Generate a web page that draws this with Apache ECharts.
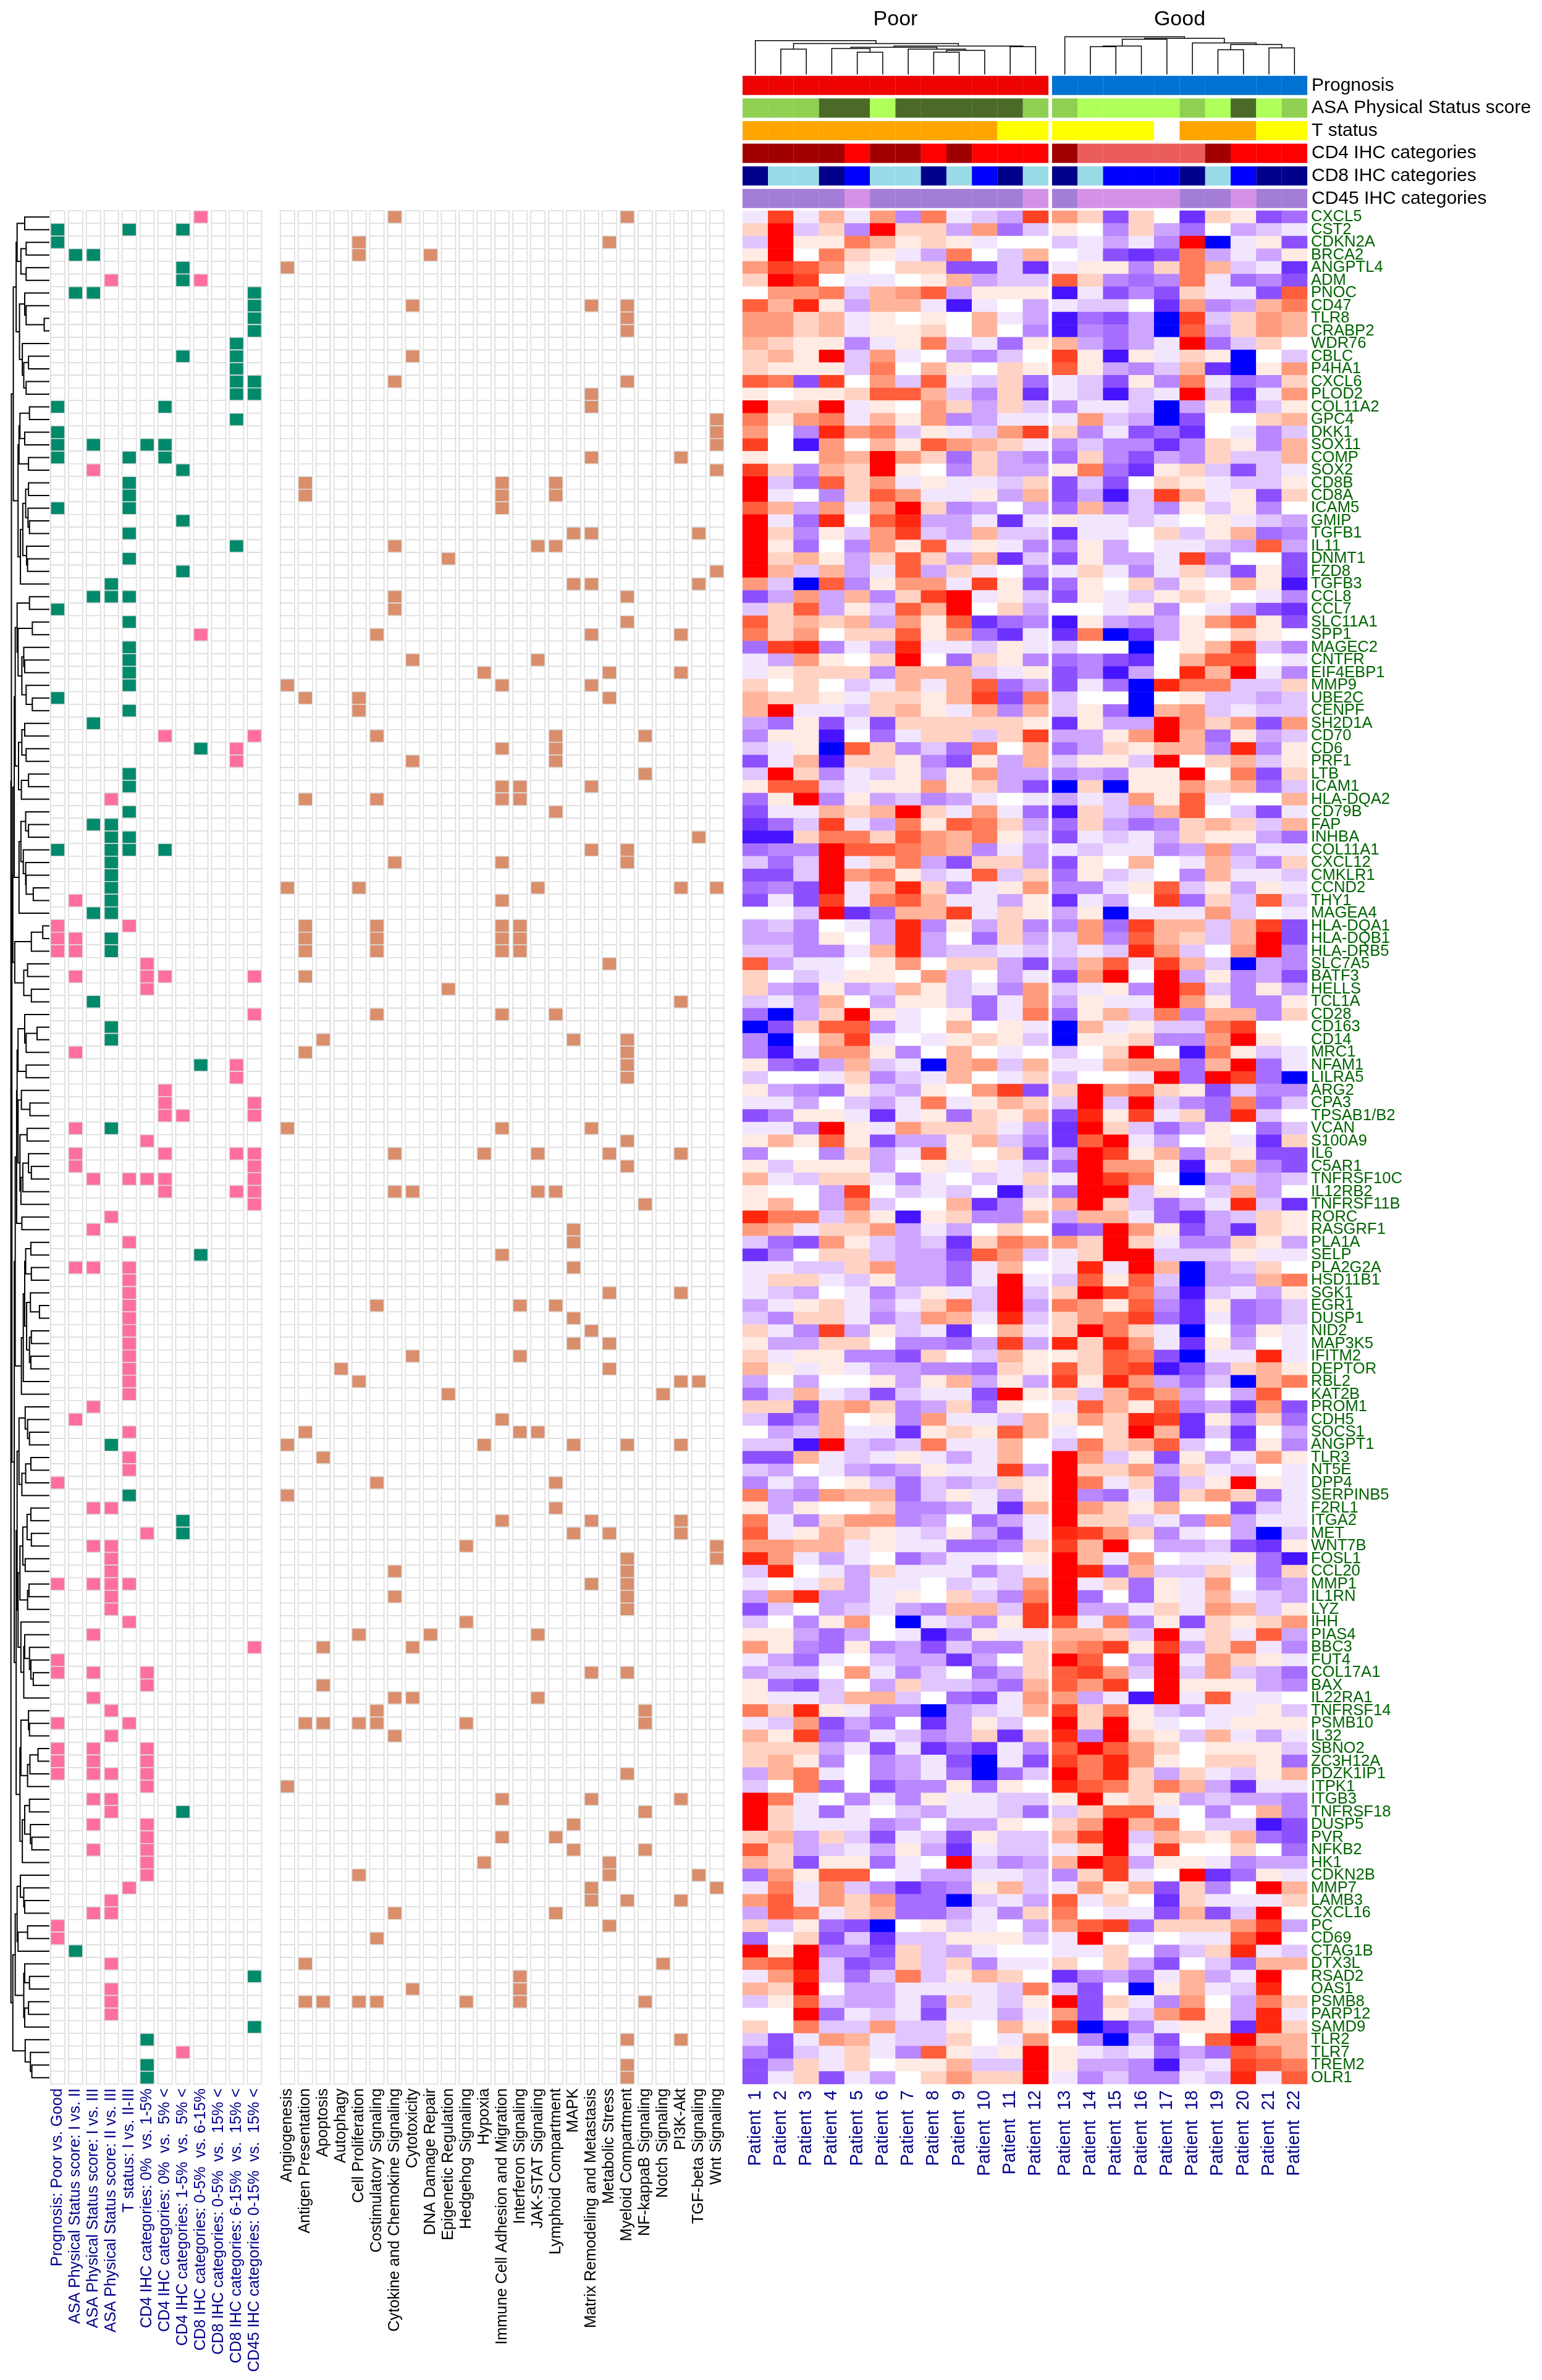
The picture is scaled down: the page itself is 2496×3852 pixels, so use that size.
<!DOCTYPE html>
<html><head><meta charset="utf-8">
<style>html,body{margin:0;padding:0;background:#fff}#c{width:2496px;height:3852px}</style>
<script src="https://cdn.jsdelivr.net/npm/echarts@6/dist/echarts.min.js"></script>
</head><body><div id="c"></div>
<script>
const patients=[];for(let i=1;i<=22;i++)patients.push('Patient  '+i);
const genes=['CXCL5','CST2','CDKN2A','BRCA2','ANGPTL4','ADM','PNOC','CD47','TLR8','CRABP2','WDR76','CBLC','P4HA1','CXCL6','PLOD2','COL11A2','GPC4','DKK1','SOX11','COMP','SOX2','CD8B','CD8A','ICAM5','GMIP','TGFB1','IL11','DNMT1','FZD8','TGFB3','CCL8','CCL7','SLC11A1','SPP1','MAGEC2','CNTFR','EIF4EBP1','MMP9','UBE2C','CENPF','SH2D1A','CD70','CD6','PRF1','LTB','ICAM1','HLA-DQA2','CD79B','FAP','INHBA','COL11A1','CXCL12','CMKLR1','CCND2','THY1','MAGEA4','HLA-DQA1','HLA-DQB1','HLA-DRB5','SLC7A5','BATF3','HELLS','TCL1A','CD28','CD163','CD14','MRC1','NFAM1','LILRA5','ARG2','CPA3','TPSAB1/B2','VCAN','S100A9','IL6','C5AR1','TNFRSF10C','IL12RB2','TNFRSF11B','RORC','RASGRF1','PLA1A','SELP','PLA2G2A','HSD11B1','SGK1','EGR1','DUSP1','NID2','MAP3K5','IFITM2','DEPTOR','RBL2','KAT2B','PROM1','CDH5','SOCS1','ANGPT1','TLR3','NT5E','DPP4','SERPINB5','F2RL1','ITGA2','MET','WNT7B','FOSL1','CCL20','MMP1','IL1RN','LYZ','IHH','PIAS4','BBC3','FUT4','COL17A1','BAX','IL22RA1','TNFRSF14','PSMB10','IL32','SBNO2','ZC3H12A','PDZK1IP1','ITPK1','ITGB3','TNFRSF18','DUSP5','PVR','NFKB2','HK1','CDKN2B','MMP7','LAMB3','CXCL16','PC','CD69','CTAG1B','DTX3L','RSAD2','OAS1','PSMB8','PARP12','SAMD9','TLR2','TLR7','TREM2','OLR1'];
// Expression level per gene, -9 (blue) .. 9 (red); columns Patient 1..22
const expression=[
[-1,7,-1,3,-1,4,-4,5,-1,-2,-3,7,4,2,-6,2,0,-7,2,1,-6,-5],
[2,9,-2,2,-4,9,2,2,-3,4,-5,-2,1,0,-4,2,-3,-5,0,-3,-2,-1],
[-2,9,1,1,5,3,1,2,1,-1,0,0,-2,-1,-3,-1,-4,9,-9,-1,1,-6],
[1,9,0,5,2,1,-1,-3,5,0,-2,3,0,-1,-6,-7,-6,5,-3,-1,-3,1],
[4,7,6,4,1,0,2,2,-6,-6,-2,-7,-1,1,1,-4,2,5,3,-2,-1,-7],
[2,9,7,0,-1,-1,0,1,3,-3,-2,-2,6,2,-4,-5,-4,5,-1,-5,-4,-6],
[0,4,4,5,-2,3,4,6,-3,1,1,1,-8,-1,-6,-4,-6,2,-1,-1,-6,6],
[6,3,8,1,-3,3,3,-1,-8,-1,0,-3,-1,-2,-2,0,-7,4,-4,-3,3,5],
[4,4,2,3,-1,1,0,1,0,3,-1,-3,-8,-5,-6,-3,-9,7,-2,2,4,3],
[4,4,2,3,-1,1,1,2,0,3,0,-4,-8,-4,-5,-3,-9,6,-3,2,4,3],
[3,2,1,1,-4,-1,1,5,-2,-1,-5,1,3,-3,-5,-3,-1,9,-5,-2,2,0],
[2,3,1,9,-2,4,-1,0,-3,-4,-2,0,7,1,-8,1,-1,2,1,-9,0,-2],
[2,1,1,1,-2,5,0,3,1,0,2,1,6,1,-3,-4,-2,3,-7,-9,1,4],
[6,5,-6,7,0,4,-2,6,-1,-2,2,-5,-1,-2,-6,1,-4,5,-1,-5,-4,2],
[1,0,1,1,2,6,6,3,-2,-4,2,-7,-1,-2,-8,-2,-1,9,-2,-7,-1,4],
[9,2,2,9,-1,1,0,4,2,-3,2,-2,-4,-1,-1,-2,-9,-3,1,-6,-2,1],
[5,1,4,5,-1,3,1,4,-4,-3,-1,-1,-1,4,-2,-3,-9,-6,0,0,2,3],
[4,0,-4,8,4,5,-2,1,-1,-2,4,7,2,-4,-1,-6,-5,-7,0,-1,-4,-2],
[7,0,-8,4,0,3,1,6,4,3,2,-1,-4,-2,-4,-4,-7,-4,2,1,-4,3],
[1,0,0,4,3,9,4,2,-5,2,-3,-4,-5,2,-4,-6,-3,-4,2,-2,-2,3],
[7,2,-4,3,2,9,1,0,-4,2,-3,-3,1,5,-5,-7,1,2,-2,-6,-2,-1],
[9,-2,-5,6,2,4,-1,1,-1,-1,-2,2,-6,-2,-6,0,2,1,-1,-2,-2,1],
[9,-1,0,-4,2,6,4,-1,-1,1,-3,3,-6,-3,-8,-2,7,3,-1,1,-6,2],
[6,3,-3,4,-1,4,9,2,-4,-3,0,-3,-5,3,-4,-2,-4,1,-2,1,-4,0],
[9,-1,-5,8,0,6,8,-3,-3,-1,-7,-1,1,-1,-1,-2,-1,0,1,-1,-2,-3],
[9,2,-4,1,-2,4,7,-2,-3,3,-2,-2,-7,-1,-1,0,2,-2,1,3,-5,-4],
[9,1,-5,0,-4,4,1,6,-1,1,-1,-4,-4,1,-3,0,-1,-1,-2,-3,6,-3],
[9,2,3,1,-3,2,6,2,-3,3,-7,-2,-6,1,-3,-3,-1,7,-4,0,0,-6],
[9,3,-2,3,-3,-1,6,-3,2,-1,0,-4,-1,2,-1,-4,-1,2,-2,-6,1,-6],
[4,-2,-9,6,-4,1,4,4,-1,7,1,-6,-5,1,0,2,-3,1,0,3,1,-8],
[-6,-3,4,-3,3,-4,2,7,9,-1,1,-2,-6,1,-1,-2,1,2,1,0,-1,-4],
[-2,2,6,-3,1,-2,6,3,9,0,2,-3,0,0,-1,1,-4,0,-1,-3,-6,-7],
[6,2,3,2,3,-3,4,1,6,-7,-5,-4,-8,1,-3,-4,-3,1,4,6,1,-6],
[5,2,4,0,2,2,6,1,4,-5,-7,-1,-7,5,-9,-7,-3,1,0,2,1,0],
[-5,7,8,-4,-1,-3,8,-1,-1,-2,1,-1,-2,0,0,-9,0,1,3,7,-2,-4],
[-1,-3,4,1,0,2,9,0,-5,2,1,-4,-5,-4,-6,-7,0,3,6,6,0,-1],
[-1,1,2,2,2,-4,3,3,3,-2,-1,1,-6,-4,-8,-3,0,8,3,9,-1,-4],
[2,0,2,0,-2,-1,3,-1,3,6,-5,-3,-6,-1,-5,-9,8,5,5,-2,-2,2],
[3,2,2,1,-1,2,2,1,3,7,-6,5,-2,0,0,-9,0,1,-2,-2,-3,-2],
[3,9,-1,-1,-2,2,3,1,-1,3,-4,3,-2,1,-5,-9,3,4,-2,-1,-2,-2],
[-3,-5,1,-6,-1,-6,2,2,2,2,2,1,-7,1,-3,-3,9,4,2,4,-6,4],
[-4,1,1,-8,0,-5,-1,2,2,-2,2,7,-3,-3,1,4,9,3,-5,1,-3,-2],
[-2,-1,1,-9,6,2,-4,-2,-5,5,0,3,-5,-3,2,1,3,3,-4,8,-4,1],
[-6,-1,3,-8,2,2,1,-4,-6,1,-3,3,-2,1,1,-2,9,0,2,3,-2,1],
[-2,9,2,-4,-1,-2,1,-3,1,4,-3,-3,-4,-3,-4,1,1,9,0,5,-6,2],
[1,6,6,-2,-1,1,1,4,1,2,-3,-6,-9,2,-9,1,1,4,2,3,-5,-2],
[-5,1,9,-4,1,-3,-2,-4,-3,-1,0,-1,-3,-1,-2,4,1,6,-1,0,0,3],
[-6,-1,-1,3,2,3,9,2,-1,4,-1,-5,-8,2,-2,-3,3,6,0,-2,-6,-1],
[-7,-5,-2,7,-1,-3,5,1,6,5,2,-3,-5,2,-3,-5,-4,2,3,2,-2,3],
[-8,-8,2,5,5,2,6,4,3,5,1,-2,-6,-1,-2,-1,-3,2,1,1,-3,-5],
[-5,-4,-4,9,6,6,5,4,3,-4,-1,-3,-1,-2,-1,-1,-4,-3,4,-3,-1,-1],
[-2,-5,-2,9,-1,2,5,-3,-6,2,2,-3,-6,1,0,3,0,-1,3,-2,-4,2],
[-6,-6,-2,9,4,5,1,-2,-1,6,-2,2,-5,1,-2,-1,0,-4,3,-1,-1,-2],
[-5,-4,-6,9,-1,3,8,2,-4,-1,1,4,-4,-4,-1,1,6,-2,1,-3,1,-1],
[-6,-1,-6,7,-1,5,6,3,-1,-1,-3,1,-7,-1,-3,0,7,-5,2,-2,6,-2],
[0,0,-2,9,-7,-5,3,3,7,-1,2,1,-3,1,-9,-1,-1,-1,4,-2,0,-1],
[-3,-2,-4,0,-1,-3,8,-4,1,-3,2,-4,-4,4,-5,7,3,3,-2,3,7,-6],
[-3,-3,-4,1,0,-3,8,-3,0,-5,2,-3,-2,4,-4,6,3,2,-2,3,9,-6],
[-2,-2,-4,-4,-1,3,8,-3,-2,-2,-1,-2,-2,-1,-2,8,4,-2,0,4,9,-4],
[6,-3,-1,-1,0,1,4,0,2,2,-3,-6,-3,3,6,-1,7,3,-2,-9,-3,-4],
[2,0,-2,-1,1,1,0,4,-2,0,-3,-1,-6,4,9,0,9,-3,1,-4,-3,-6],
[2,-3,-4,1,-3,-2,3,1,-2,-1,-4,4,-2,-1,1,-4,9,6,-2,-4,1,-3],
[-2,-1,-3,3,0,-3,1,1,-2,-5,-1,4,-3,1,-1,-1,9,4,1,-4,-4,1],
[-5,-9,-3,2,9,1,-1,0,1,-5,-1,5,-5,1,3,-2,5,-4,3,3,-4,2],
[-9,-6,2,6,6,-4,-1,0,3,0,1,-1,-9,3,-1,1,-2,-2,5,7,0,0],
[-4,-9,0,3,7,-1,0,-1,1,2,1,-2,-9,1,1,2,-4,-4,4,9,1,0],
[-4,-8,-1,4,4,1,-4,0,3,0,-1,0,-2,0,2,9,0,-8,5,1,-2,-1],
[1,-5,-6,-3,3,-2,-1,-9,3,4,-2,3,-1,-1,3,4,4,-5,3,9,-5,-1],
[-2,0,0,-1,2,-4,-2,-1,3,0,-1,2,-2,0,0,-1,9,-5,9,7,-5,-9],
[1,-3,-4,-5,1,-2,-3,1,0,4,7,-6,2,9,4,5,2,1,-6,-2,-4,-4],
[-1,-1,-3,0,-2,-3,-1,5,-1,1,3,2,-2,9,-2,9,-2,-4,-5,5,-5,-2],
[-6,-4,1,1,-1,-7,-1,1,-5,2,1,3,-6,8,1,7,-1,2,-5,8,-2,0],
[-1,-1,-4,9,1,-1,4,2,2,2,-1,-3,-7,9,2,-2,-5,-3,1,0,-5,-2],
[1,3,1,6,1,-6,-3,-3,1,3,-2,-4,-7,6,9,-1,-3,0,1,-1,-7,2],
[-4,0,0,-4,2,-3,-1,6,1,0,2,-6,-3,9,7,1,3,-4,2,1,-6,-6],
[1,-2,1,1,1,-3,0,1,-1,1,-1,-2,-5,9,4,4,1,-8,1,3,-4,-6],
[3,-1,-2,2,2,-1,-4,-1,0,-2,-1,2,-1,9,7,5,0,-9,-3,-2,-3,-2],
[1,0,0,-3,7,0,-2,-1,-2,0,-8,-2,-5,9,9,-2,1,0,-2,3,-3,0],
[1,3,0,-3,5,-2,0,0,3,-7,-4,1,3,9,2,-2,-5,-3,-1,8,-2,-7],
[8,5,5,-2,3,1,-8,1,2,-4,-4,3,-3,3,3,-1,-5,-7,-3,-2,2,1],
[4,3,-1,2,2,4,-3,-1,-3,0,2,0,-6,-5,9,4,1,-6,-3,-7,2,1],
[-2,-5,-6,4,1,-2,-3,-2,-7,2,5,4,4,2,9,2,-1,-4,-4,2,1,-3],
[-7,-4,0,2,2,-2,-3,-3,-6,6,4,-2,-1,2,9,9,-2,-2,-2,1,-1,-1],
[-1,-1,-2,-2,2,4,-3,-3,-5,-1,3,0,-1,8,-1,9,3,-9,-3,-2,2,0],
[-1,2,2,-1,-2,1,-3,-3,-5,-1,9,-1,-2,6,1,6,-2,-9,-3,-3,3,5],
[-1,-2,-3,0,-1,-4,-2,1,-1,-2,9,-2,2,9,7,5,-3,-8,-2,-1,-3,1],
[-3,-1,1,2,-1,-3,-1,2,5,-2,9,-3,5,4,1,6,-4,-7,1,-5,-4,-2],
[-2,-4,2,2,-1,-4,-2,4,3,-1,8,-2,2,4,5,7,-5,-7,-1,-5,-4,-2],
[2,-1,-4,7,-3,1,-2,-1,-7,0,3,-1,2,9,5,2,-1,-9,0,-4,1,-1],
[1,-3,-3,2,2,0,-4,-4,-5,-3,7,-3,8,2,8,4,-1,-7,1,-3,0,-1],
[2,-1,1,1,-4,-4,-6,2,0,-2,3,1,1,2,6,5,-6,-9,-1,-1,8,-1],
[3,1,-1,1,-1,-3,-3,-4,-4,-5,2,1,6,2,6,7,-8,-6,-3,2,3,1],
[-3,0,-3,0,0,1,-3,1,3,-3,1,-3,7,1,8,4,-3,-5,-2,-9,3,5],
[-5,-2,3,-1,-2,-6,-2,-1,-1,-6,9,1,2,-2,3,6,4,-3,0,-3,6,0],
[2,2,-6,3,4,2,-4,-3,2,-5,1,0,-1,6,3,1,6,-4,-3,-7,4,-6],
[-2,-6,-4,3,0,1,-4,4,-1,-1,-2,3,1,4,2,8,7,-7,1,-4,2,-5],
[0,-3,-2,3,-1,-1,-7,1,2,1,6,3,-1,0,2,9,3,-7,-2,-7,0,-3],
[-2,-2,-8,9,-2,-3,-2,5,-1,-1,3,0,-2,5,2,3,6,-2,0,-6,1,-4],
[-6,-6,3,-1,-2,-1,1,-1,-3,-1,3,0,9,4,-2,1,-6,1,-3,-1,4,1],
[-2,-3,0,-1,-3,-4,-3,1,-1,-1,7,-3,9,2,2,4,-3,2,-1,-2,0,-1],
[-4,-1,-3,0,1,-2,-5,-2,-3,-2,2,1,9,5,-1,2,-5,-2,1,9,1,-1],
[5,-3,-4,4,3,3,-5,-2,1,-1,-3,1,9,-4,-5,-1,-5,2,4,2,-5,-1],
[1,-3,1,0,0,2,-4,-4,-3,-1,-7,3,9,4,2,1,3,0,0,-6,-2,-1],
[5,-1,-4,2,4,4,-4,-3,0,-5,-3,-1,9,2,2,-2,-1,-4,4,-3,-1,-1],
[6,-1,1,3,2,1,-1,-2,1,-3,-6,-1,8,7,4,2,-4,-1,0,-3,-9,-2],
[4,4,3,3,-1,1,-1,-1,-5,-5,-4,2,7,3,9,0,-3,-3,-2,-6,-7,1],
[8,4,-1,-3,-1,0,-5,-3,-1,-1,0,1,9,3,-1,4,0,-1,-1,1,-5,-8],
[-2,8,0,-1,-3,2,-1,-1,-1,-4,-2,-1,9,8,-5,3,-2,-2,2,-1,-5,2],
[-1,0,-1,2,-3,-1,-1,0,-2,-1,-2,4,9,-1,2,-5,1,-1,4,0,-4,-3],
[-3,4,8,-3,-3,-1,1,0,2,-2,-4,5,9,-5,0,-5,1,-1,3,-1,-2,-3],
[-6,-2,0,-3,-2,-1,-3,-4,3,3,-2,7,9,-3,-3,-1,2,-1,4,3,-2,1],
[-2,0,-4,1,4,0,-9,-1,-2,-4,1,7,6,-1,5,-4,1,-6,2,1,2,4],
[1,1,-3,-5,-3,0,-1,-8,-5,1,-1,-1,3,3,2,-2,9,-1,2,-1,6,-3],
[4,1,-4,-5,1,-4,-3,-6,-2,-4,-4,2,4,5,7,1,7,-3,2,5,-1,-4],
[-1,-3,-5,-1,0,-2,-3,-3,-7,-3,0,2,9,6,0,-3,9,-1,4,2,1,-1],
[-3,-2,-2,0,4,-1,-4,-2,0,-5,-3,2,6,7,4,-2,9,-2,4,-2,-3,-5],
[1,-5,-6,-2,0,-3,2,-2,-2,-3,-5,3,6,4,7,0,9,1,1,1,-3,-4],
[1,-1,-1,-2,3,3,-2,0,-5,-6,-1,4,4,-3,-1,-8,9,-1,6,-1,-1,0],
[5,2,8,1,-1,-4,-4,-9,-3,-2,-1,3,7,2,5,1,-2,-3,-1,-1,1,-2],
[-1,-2,4,-6,-3,-5,0,-7,-3,1,-2,0,9,2,9,1,-1,0,-1,1,1,1],
[3,1,7,-5,-4,-1,-2,-4,-3,2,-7,2,8,-4,9,2,1,-2,3,-1,-3,-1],
[2,2,2,-3,-1,-6,-1,-7,-5,-7,-1,-4,6,9,6,4,2,0,1,1,1,-2],
[2,3,1,-4,0,-4,-3,-1,-6,-9,-1,-6,7,5,8,4,1,0,2,2,1,-5],
[-3,3,5,-1,0,-4,-3,-1,-5,-9,-5,-2,9,5,8,2,-3,2,-1,-2,1,3],
[-2,0,5,-5,0,-6,-4,-4,1,-5,1,0,8,6,5,2,5,3,-3,-7,-1,-1],
[9,5,-1,0,-4,-1,-4,1,-1,-1,-2,-2,1,9,1,2,1,-3,-2,-3,-3,-4],
[9,2,-1,-5,-1,0,-2,-3,-1,-1,-2,-5,-2,2,6,6,-1,0,-4,0,3,-4],
[9,2,-1,-1,-1,-4,-3,0,-3,-3,1,0,2,4,9,3,5,0,-2,-2,-8,-6],
[2,3,-3,2,-2,-6,-1,-2,-6,1,-2,-2,3,7,9,-2,3,2,1,3,-5,-6],
[6,2,-3,-2,-1,-3,1,-3,-7,-1,-2,-2,-1,2,9,-1,7,0,0,2,0,-5],
[3,2,-6,1,1,-5,-1,0,9,-2,-4,-3,3,9,7,-3,1,1,-1,-4,-3,-3],
[-5,4,1,6,6,0,-1,-3,-3,-1,-1,-2,-4,2,7,-1,0,9,-7,-5,1,-1],
[-1,5,-1,4,-2,-4,-7,-5,-4,1,3,-2,-1,4,1,3,-6,2,-4,0,9,3],
[4,6,-1,4,2,4,-5,-5,-9,-2,-1,-3,6,-1,2,0,-7,2,-1,-1,-1,2],
[-3,6,5,-1,2,3,-5,-5,-3,-1,-4,2,5,0,-1,-1,-6,3,-6,-2,9,0],
[2,-2,1,-5,-6,-9,0,1,-2,-1,0,-3,4,6,7,-5,2,2,2,4,7,-3],
[-5,0,2,-6,-2,-7,-2,-2,1,1,1,-2,-1,9,0,-1,0,-1,-1,6,9,0],
[9,1,9,-4,-4,-6,2,-2,-3,-1,0,0,-1,-1,2,0,-4,-2,2,8,-1,-2],
[5,6,9,-2,-6,-5,2,-2,2,-4,-1,-1,2,0,2,-3,-6,0,-2,-5,3,3],
[-1,4,8,-2,-5,-2,5,-2,1,3,2,0,-7,-4,-3,-5,-1,3,-3,-1,9,0],
[3,2,9,0,-3,-3,-1,-1,-1,-1,-2,5,-2,-6,0,-9,1,3,-1,-2,8,0],
[-2,1,6,-2,-3,-3,-1,-5,2,-1,-2,1,9,-6,2,-1,-4,4,0,-3,5,2],
[0,0,9,-5,-1,-2,-1,-6,-1,-1,-3,-1,4,-6,1,-2,4,6,1,-3,8,-1],
[2,0,5,-2,-2,4,-2,-2,1,0,3,1,7,-9,-7,-4,-1,1,1,-7,8,2],
[-2,-6,-1,4,3,-1,-2,-2,2,0,-1,4,0,-4,-9,-2,-6,0,6,9,3,3],
[-4,-6,-2,-1,2,-1,-4,6,1,-1,1,9,1,-1,-2,-1,-5,-3,-5,6,5,3],
[-6,-3,2,-1,2,0,1,1,3,-2,-2,9,1,-3,-3,-4,-8,-2,-1,7,6,5],
[-6,-1,2,-6,-1,-3,0,2,4,2,2,9,-1,-4,-2,-4,-4,-1,-2,8,-1,6]
];
const rampColors=['#0000FF','#4614FF','#6E32FF','#8C50FF','#A56EFF','#B987FF','#CDA5FF','#E1C5FF','#F2E6FF','#FFFFFF','#FFEBE3','#FFD2C3','#FFB49B','#FF9B7D','#FF7D5A','#FF5F3C','#FF4123','#FF280F','#FF0000'];

// Sample annotation tracks, one category index per patient
const annotNames=['Prognosis','ASA Physical Status score','T status','CD4 IHC categories','CD8 IHC categories','CD45 IHC categories'];
const prognosis=[0,0,0,0,0,0,0,0,0,0,0,0,1,1,1,1,1,1,1,1,1,1];
const asaScore=[0,0,0,1,1,2,1,1,1,1,1,0,0,2,2,2,2,0,2,1,2,0];
const tStatus=[0,0,0,0,0,0,0,0,0,0,1,1,1,1,1,1,2,0,0,0,1,1];
const cd4Cat=[0,0,0,0,1,0,0,1,0,1,1,1,0,2,2,2,2,2,0,1,1,1];
const cd8Cat=[0,1,1,0,2,1,1,0,1,2,0,1,0,1,2,2,2,0,1,2,0,0];
const cd45Cat=[0,0,0,0,1,0,0,0,0,0,0,1,0,1,1,1,1,0,0,1,0,0];
const annotTracks=[prognosis,asaScore,tStatus,cd4Cat,cd8Cat,cd45Cat];
const annotColors=[['#EE0202','#0072D2'],['#8FD052','#4B6A28','#AFFF5A'],['#FFA500','#FFFF00','#FFFFFF'],['#A00000','#FF0000','#EB5C5C'],['#00008B','#9ADBE8','#0000FF'],['#A47DD8','#D591E5']];

const clinicalLabels=['Prognosis: Poor vs. Good','ASA Physical Status score: I vs. II','ASA Physical Status score: I vs. III','ASA Physical Status score: II vs. III','T status: I vs. II-III','CD4 IHC categories: 0%  vs. 1-5%','CD4 IHC categories: 0%  vs.  5% <','CD4 IHC categories: 1-5%  vs.  5% <','CD8 IHC categories: 0-5%  vs. 6-15%','CD8 IHC categories: 0-5%  vs.  15% <','CD8 IHC categories: 6-15%  vs.  15% <','CD45 IHC categories: 0-15%  vs.  15% <'];
const pathwayLabels=['Angiogenesis','Antigen Presentation','Apoptosis','Autophagy','Cell Proliferation','Costimulatory Signaling','Cytokine and Chemokine Signaling','Cytotoxicity','DNA Damage Repair','Epigenetic Regulation','Hedgehog Signaling','Hypoxia','Immune Cell Adhesion and Migration','Interferon Signaling','JAK-STAT Signaling','Lymphoid Compartment','MAPK','Matrix Remodeling and Metastasis','Metabolic Stress','Myeloid Compartment','NF-kappaB Signaling','Notch Signaling','PI3K-Akt','TGF-beta Signaling','Wnt Signaling'];
// [gene row (1-based), clinical columns (1-based)]: positive = green, negative = pink
const clinicalHits=[[1,[-9]],[2,[1,5,8]],[3,[1]],[4,[2,3]],[5,[8]],[6,[-4,8,-9]],[7,[2,3,12]],[8,[12]],[9,[12]],[10,[12]],[11,[11]],[12,[8,11]],[13,[11]],[14,[11,12]],[15,[11,12]],[16,[1,7]],[17,[11]],[18,[1]],[19,[1,3,6,7]],[20,[1,5,7]],[21,[-3,8]],[22,[5]],[23,[5]],[24,[1,5]],[25,[8]],[26,[5]],[27,[11]],[28,[5]],[29,[8]],[30,[4]],[31,[3,4,5]],[32,[1]],[33,[5]],[34,[-9]],[35,[5]],[36,[5]],[37,[5]],[38,[5]],[39,[1]],[40,[5]],[41,[3]],[42,[-7,-12]],[43,[9,-11]],[44,[-11]],[45,[5]],[46,[5]],[47,[-4]],[48,[5]],[49,[3,4]],[50,[4,5]],[51,[1,4,5,7]],[52,[4]],[53,[4]],[54,[4]],[55,[-2,4]],[56,[3,4]],[57,[-1,-5]],[58,[-1,-2,4]],[59,[-1,-2,4]],[60,[-6]],[61,[-2,-6,-7,-12]],[62,[-6]],[63,[3]],[64,[-12]],[65,[4]],[66,[4]],[67,[-2]],[68,[9,-11]],[69,[-11]],[70,[-7]],[71,[-7,-12]],[72,[-7,-8,-12]],[73,[-2,4]],[74,[-6]],[75,[-2,-7,-11,-12]],[76,[-2,-12]],[77,[-3,-5,-6,-7,-12]],[78,[-7,-11,-12]],[79,[-12]],[80,[-4]],[81,[-3]],[82,[-5]],[83,[9]],[84,[-2,-3,-5]],[85,[-5]],[86,[-5]],[87,[-5]],[88,[-5]],[89,[-5]],[90,[-5]],[91,[-5]],[92,[-5]],[93,[-5]],[94,[-5]],[95,[-3]],[96,[-2]],[97,[-5]],[98,[4]],[99,[-5]],[100,[-5]],[101,[-1]],[102,[5]],[103,[-3,-4]],[104,[8]],[105,[-6,8]],[106,[-3,-4]],[107,[-4]],[108,[-4]],[109,[-1,-3,-4,-5]],[110,[-4]],[111,[-4]],[112,[-5]],[113,[-3]],[114,[-12]],[115,[-1]],[116,[-1,-3,-6]],[117,[-6]],[118,[-3]],[119,[-4]],[120,[-1,-5]],[121,[-4]],[122,[-1,-3,-6]],[123,[-1,-3,-6]],[124,[-1,-3,-4,-6]],[125,[-6]],[126,[-3,-4]],[127,[-4,8]],[128,[-3,-6]],[129,[-6]],[130,[-3,-6]],[131,[-6]],[132,[-6]],[133,[-5]],[134,[-4]],[135,[-3,-4]],[136,[-1]],[137,[-1]],[138,[2]],[139,[-4]],[140,[12]],[141,[-4]],[142,[-4]],[143,[-4]],[144,[12]],[145,[6]],[146,[-8]],[147,[6]],[148,[6]]];
// [gene row (1-based), pathway columns (1-based)]
const pathwayHits=[[1,[7,20]],[3,[5,19]],[4,[5,9]],[5,[1]],[8,[8,18,20]],[9,[20]],[10,[20]],[12,[8]],[14,[7,20]],[15,[18]],[16,[18]],[17,[25]],[18,[25]],[19,[25]],[20,[18,23]],[21,[25]],[22,[2,13,16]],[23,[2,13,16]],[24,[13]],[26,[17,18,24]],[27,[7,15,16]],[28,[10]],[29,[25]],[30,[17,18,24]],[31,[7,20]],[32,[7]],[33,[20]],[34,[6,18,23]],[36,[8,15]],[37,[12,19,23]],[38,[1,13,18]],[39,[2,5,19]],[40,[5]],[42,[6,16,21]],[43,[13,16]],[44,[8,16]],[45,[21]],[46,[13,14,18]],[47,[2,6,13,14]],[48,[16]],[50,[24]],[51,[18,20]],[52,[7,13,20]],[54,[1,5,15,23,25]],[55,[13]],[57,[2,6,13,14]],[58,[2,6,13,14]],[59,[2,6,13,14]],[60,[19]],[61,[2]],[62,[10]],[63,[23]],[64,[6,13,16]],[66,[3,17,20]],[67,[2,20]],[68,[20]],[69,[20]],[73,[1,13,18]],[74,[20]],[75,[7,12,15,19,23]],[76,[20]],[78,[7,8,15,16]],[79,[21]],[81,[17]],[82,[17]],[83,[13]],[84,[17]],[86,[19,23]],[87,[6,14,16]],[88,[17]],[89,[18]],[90,[17,19]],[91,[8,14]],[92,[4,19]],[93,[5,23,24]],[94,[10,22]],[96,[13]],[97,[2,14,15]],[98,[1,12,17,20,23]],[99,[3]],[101,[6,16]],[102,[1]],[103,[16]],[104,[13,18,23]],[105,[17,19,23]],[106,[11,25]],[107,[20,25]],[108,[7,20]],[109,[18,20]],[110,[7,20]],[111,[20]],[112,[11]],[113,[5,9,15]],[114,[3,8]],[116,[18,20]],[117,[3]],[118,[7,8,15]],[119,[6,21]],[120,[2,3,5,6,11,21]],[121,[7]],[124,[20]],[125,[1]],[126,[13,18,23]],[127,[21]],[128,[17]],[129,[13,16]],[130,[17,21]],[131,[12,19]],[132,[5,19,24]],[133,[18,25]],[134,[18,20,23]],[135,[7,16]],[136,[19]],[137,[6]],[139,[2,22]],[140,[14]],[141,[8,14]],[142,[2,3,5,6,11,14,21]],[145,[20,23]],[147,[20]],[148,[20]]];

// Dendrograms: node = [merge height, left, right]; 0 = next leaf
const treePoor=[54.7,0,[50,[41,0,0],[46,[44,[42,0,[36,0,0]],[41,0,[39,[36,0,0],0]]],[45,0,0]]]];
const treeGood=[61,0,[58.6,[57,[46,[45,0,0],0],0],[51,0,[48.6,[40,0,0],[43,0,0]]]]];
const rowA=[68,[52,0,0],[60,[49,0,0],[49,0,0]]];
const rowB=[63,[52,0,[49,0,[11,0,0]]],[57,0,[54,[44,0,0],[49,0,0]]]];
const rowC=[64,[62,[42,0,0],[52,0,0]],[44,0,0]];
const rowD=[61,[56,[50,[44,0,0],[45,0,[42,0,0]]],[48,0,[46,0,0]]],0];
const rowT1=[76,[70,rowA,rowB],[66,rowC,rowD]];
const rowF1=[68,[42,0,0],[66,[36,0,0],[58,[54,0,[52,0,0]],[49,0,[36,0,0]]]]];
const rowF23=[65,[58,[52,0,0],[49,0,0]],[59,[44,0,0],0]];
const rowF4=[64,[60,[50,0,[44,0,0]],[55,0,[50,0,[49,0,[34,0,0]]]]],0];
const rowF56=[73,[38,[14,0,0],0],[54,[46,0,0],[38,0,0]]];
const rowG1=[77,[74,[72,rowF1,rowF23],rowF4],rowF56];
const rowF7=[66,[52,0,[49,[26,0,0],0]],[49,0,0]];
const rowF8=[66,[59,0,[41,0,0]],[62,[47,0,0],[60,[56,[44,0,[38,0,0]],0],0]]];
const rowF9=[59,[55,[52,[50,[39,0,0],[38,0,0]],[48,[40,0,[21,0,0]],[42,[38,0,0],[39,0,0]]]],0],0];
const rowG2=[72,[69,[68,rowF7,rowF8],[58,0,0]],rowF9];
const rowF10=[64,[51,0,[46,0,[42,0,0]]],[58,[50,[39,0,0],0],0]];
const rowF11=[62,[56,[47,[39,0,0],[38,0,0]],[51,0,0]],[46,[43,0,0],0]];
const rowF12=[66,rowF11,[60,0,[54,[52,0,[42,0,[39,0,[34,0,0]]]],0]]];
const rowF13=[62,[60,[44,0,[42,0,0]],[46,[41,[24,0,0],0],0]],[57,[52,[42,0,0],[40,0,[37,0,0]]],0]];
const rowG3=[70,[68,rowF10,rowF12],rowF13];
const rowLow=[77,[72,[68,[61,0,[54,0,[52,0,0]]],[66,[46,0,0],0]],[54,[52,0,[42,0,0]],[52,[44,0,0],0]]],[51,0,[40,0,[37,0,0]]]];
const treeRows=[81,[80,rowT1,[79,rowG1,[74,rowG2,rowG3]]],rowLow];

// --- checks on the transcription
if(genes.length!==148||expression.length!==148)throw new Error('rows '+genes.length+' '+expression.length);
expression.forEach((r,i)=>{if(r.length!==22)throw new Error('row '+(i+1)+' has '+r.length)});
function leafCount(t){return t===0?1:leafCount(t[1])+leafCount(t[2])}
if(leafCount(treeRows)!==148)throw new Error('tree leaves '+leafCount(treeRows));
if(leafCount(treePoor)!==12||leafCount(treeGood)!==10)throw new Error('col tree');

function segments(tree){
  const out=[];let next=0;
  (function walk(t){
    if(t===0){next++;return [next-0.5,0]}
    const a=walk(t[1]),b=walk(t[2]);
    out.push([t[0],a[0],a[1],b[0],b[1]]);
    return [(a[0]+b[0])/2,t[0]];
  })(tree);
  return out;
}
const FONT='"Liberation Sans",Arial,sans-serif';
const TOP=341,H=3032,NAVY='#00008B';

function heatData(from,to){const d=[];expression.forEach((r,y)=>{for(let x=from;x<to;x++)d.push([x-from,y,r[x]])});return d}
function annotData(from,to){const d=[];annotTracks.forEach((t,y)=>{for(let x=from;x<to;x++)d.push([x-from,y,annotColors[y][t[x]]])});return d}
function hitData(hits,n,posCol,negCol){
  const m=genes.map(()=>new Array(n).fill('#FFFFFF'));
  hits.forEach(([r,cols])=>cols.forEach(c=>{m[r-1][Math.abs(c)-1]=c>0?posCol:negCol}));
  const d=[];m.forEach((row,y)=>row.forEach((c,x)=>d.push([x,y,c])));return d;
}
const rectItem=(fw,fh,stroke)=>(p,api)=>{
  const c=api.coord([api.value(0),api.value(1)]),s=api.size([1,1]);
  const w=s[0]*fw,h=s[1]*fh;
  return {type:'rect',shape:{x:c[0]-w/2,y:c[1]-h/2,width:w,height:h},
    style:{fill:api.value(2),stroke:stroke||null,lineWidth:stroke?1.6:0}};
};
const treeItem=(horizontal,lw)=>(p,api)=>{
  const h=api.value(0),pa=api.value(1),ha=api.value(2),pb=api.value(3),hb=api.value(4);
  const pt=(hh,pp)=>horizontal?api.coord([hh,pp]):api.coord([pp,hh]);
  return {type:'polyline',shape:{points:[pt(ha,pa),pt(h,pa),pt(h,pb),pt(hb,pb)]},style:{stroke:'#000',lineWidth:lw,fill:null}};
};
const hide={show:false};
const plainCat=(data,extra)=>Object.assign({type:'category',data,axisLine:hide,axisTick:hide,splitLine:hide,axisLabel:hide},extra||{});
const valAxis=(gi,min,max,inv)=>({type:'value',gridIndex:gi,min,max,inverse:!!inv,show:false,splitLine:hide});
const rotLabel=(color,margin)=>({show:true,rotate:90,interval:0,color,fontSize:25.3,fontFamily:FONT,margin:margin||7});

const grids=[
 {left:1202,width:495,top:TOP,height:H},      //0 expression poor
 {left:1703,width:413,top:TOP,height:H},      //1 expression good
 {left:1202,width:495,top:120,height:219.6},  //2 tracks poor
 {left:1703,width:413,top:120,height:219.6},  //3 tracks good
 {left:1202,width:495,top:50.5,height:70},    //4 tree poor
 {left:1703,width:413,top:50.5,height:70},    //5 tree good
 {left:0,width:80,top:TOP,height:H},          //6 tree rows
 {left:78.9,width:347.4,top:TOP,height:H},    //7 clinical
 {left:450.8,width:723.8,top:TOP,height:H}    //8 pathway
];
const xAxes=[
 plainCat(patients.slice(0,12),{gridIndex:0,axisLabel:Object.assign(rotLabel(NAVY,10),{fontSize:29})}),
 plainCat(patients.slice(12),{gridIndex:1,axisLabel:Object.assign(rotLabel(NAVY,10),{fontSize:29})}),
 plainCat(patients.slice(0,12),{gridIndex:2}),
 plainCat(patients.slice(12),{gridIndex:3}),
 valAxis(4,0,12),valAxis(5,0,10),valAxis(6,0,104,true),
 plainCat(clinicalLabels,{gridIndex:7,axisLabel:rotLabel(NAVY)}),
 plainCat(pathwayLabels,{gridIndex:8,axisLabel:rotLabel('#000000')})
];
const yAxes=[
 plainCat(genes,{gridIndex:0,inverse:true}),
 plainCat(genes,{gridIndex:1,inverse:true,position:'right',axisLabel:{show:true,interval:0,color:'#006400',fontSize:25.6,fontFamily:FONT,margin:6,padding:[4,0,0,0]}}),
 plainCat(annotNames,{gridIndex:2,inverse:true}),
 plainCat(annotNames,{gridIndex:3,inverse:true,position:'right',axisLabel:{show:true,interval:0,color:'#000',fontSize:30,fontFamily:FONT,margin:7,padding:[4,0,0,0]}}),
 valAxis(4,0,70),valAxis(5,0,70),valAxis(6,0,148,true),
 plainCat(genes,{gridIndex:7,inverse:true}),
 plainCat(genes,{gridIndex:8,inverse:true})
];
const flat={silent:true,animation:false,emphasis:{disabled:true}};
const series=[
 Object.assign({type:'heatmap',xAxisIndex:0,yAxisIndex:0,data:heatData(0,12),progressive:0},flat),
 Object.assign({type:'heatmap',xAxisIndex:1,yAxisIndex:1,data:heatData(12,22),progressive:0},flat),
 Object.assign({type:'custom',xAxisIndex:2,yAxisIndex:2,data:annotData(0,12),renderItem:rectItem(1.004,0.85),dimensions:['x','y',{name:'c',type:'ordinal'}]},flat),
 Object.assign({type:'custom',xAxisIndex:3,yAxisIndex:3,data:annotData(12,22),renderItem:rectItem(1.004,0.85),dimensions:['x','y',{name:'c',type:'ordinal'}]},flat),
 Object.assign({type:'custom',xAxisIndex:4,yAxisIndex:4,data:segments(treePoor),renderItem:treeItem(false,1.5),clip:false},flat),
 Object.assign({type:'custom',xAxisIndex:5,yAxisIndex:5,data:segments(treeGood),renderItem:treeItem(false,1.5),clip:false},flat),
 Object.assign({type:'custom',xAxisIndex:6,yAxisIndex:6,data:segments(treeRows),renderItem:treeItem(true,2),clip:false},flat),
 Object.assign({type:'custom',xAxisIndex:7,yAxisIndex:7,data:hitData(clinicalHits,12,'#00896B','#FF6EA0'),renderItem:rectItem(0.795,1,'#DCDCDC'),dimensions:['x','y',{name:'c',type:'ordinal'}]},flat),
 Object.assign({type:'custom',xAxisIndex:8,yAxisIndex:8,data:hitData(pathwayHits,25,'#DA8E6B','#DA8E6B'),renderItem:rectItem(0.795,1,'#DCDCDC'),dimensions:['x','y',{name:'c',type:'ordinal'}]},flat)
];
const chart=echarts.init(document.getElementById('c'),null,{renderer:'canvas',width:2496,height:3852});
chart.setOption({
 animation:false,backgroundColor:'#fff',
 title:[
  {text:'Poor',left:1444.5,top:10,textAlign:'center',textStyle:{fontSize:34,fontWeight:'normal',color:'#000',fontFamily:FONT}},
  {text:'Good',left:1904.5,top:10,textAlign:'center',textStyle:{fontSize:34,fontWeight:'normal',color:'#000',fontFamily:FONT}}
 ],
 visualMap:{show:false,type:'continuous',min:-9,max:9,seriesIndex:[0,1],inRange:{color:rampColors}},
 grid:grids,xAxis:xAxes,yAxis:yAxes,series
});
</script></body></html>
